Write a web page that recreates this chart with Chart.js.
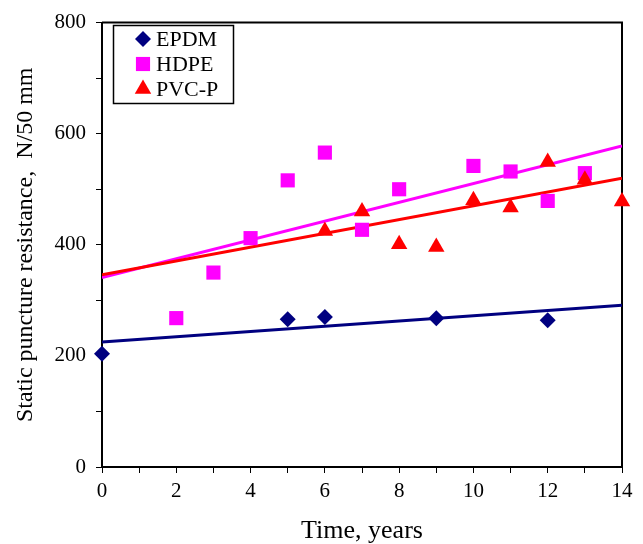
<!DOCTYPE html>
<html lang="en">
  <head>
    <meta charset="UTF-8">
    <title>Static puncture resistance</title>
    <script src="https://cdn.jsdelivr.net/npm/chart.js@4.4.7/dist/chart.umd.min.js"></script>
    <style>
    html, body { margin: 0; padding: 0; background: #fff; }
    #wrap { width: 643px; height: 544px; }
    </style>
  </head>
  <body>
    <div id="wrap"><canvas id="punctureChart" width="643" height="544"></canvas></div>
    <script>
    // measured points
    const epdmYears = [0, 5, 6, 9, 12];
    const epdmValues = [204, 266, 270, 268, 264];
    const hdpeYears = [2, 3, 4, 5, 6, 7, 8, 10, 11, 12, 13];
    const hdpeValues = [268, 350, 412, 516, 566, 427, 500, 542, 532, 479, 529];
    const pvcYears = [6, 7, 8, 9, 10, 11, 12, 13, 14];
    const pvcValues = [425, 460, 401, 396, 480, 467, 549, 517, 478];

    // trend line end points
    const trendYears = [0, 14];
    const epdmTrend = [225, 291];
    const hdpeTrend = [341, 578];
    const pvcTrend = [346, 520];

    const serif = '"Liberation Serif", "Times New Roman", serif';

    function pts(xs, ys) {
      return xs.map((x, i) => ({ x: x, y: ys[i] }));
    }

    const legendBox = {
      id: 'legendBox',
      beforeDatasetsDraw(chart) {
        // top and right sides of the plot frame
        const ctx = chart.ctx;
        const area = chart.chartArea;
        ctx.save();
        ctx.strokeStyle = '#000';
        ctx.lineWidth = 2;
        ctx.beginPath();
        ctx.moveTo(area.left, area.top);
        ctx.lineTo(area.right, area.top);
        ctx.lineTo(area.right, area.bottom);
        ctx.stroke();
        ctx.restore();
      },
      afterDatasetsDraw(chart) {
        const ctx = chart.ctx;
        ctx.save();
        ctx.strokeStyle = '#000';
        ctx.lineWidth = 1.5;
        ctx.strokeRect(113.5, 25.5, 120, 78);
        ctx.font = '22px ' + serif;
        ctx.textBaseline = 'middle';
        chart.data.datasets.slice(0, 3).forEach((ds, i) => {
          const y = 39 + i * 25;
          ctx.fillStyle = ds.pointBackgroundColor;
          ctx.strokeStyle = ds.pointBackgroundColor;
          Chart.helpers.drawPoint(ctx, {
            pointStyle: ds.pointStyle,
            radius: ds.pointRadius,
            rotation: 0,
            borderWidth: 0
          }, 143, y);
          ctx.fillStyle = '#000';
          ctx.fillText(ds.label, 156, y + 1);
        });
        ctx.restore();
      }
    };

    const ctx = document.getElementById('punctureChart').getContext('2d');
    const punctureChart = new Chart(ctx, {
      type: 'scatter',
      data: {
        datasets: [
          {
            label: 'EPDM',
            data: pts(epdmYears, epdmValues),
            pointStyle: 'rectRot',
            pointRadius: 8,
            pointBackgroundColor: '#000080',
            pointBorderWidth: 0,
            showLine: false,
            clip: false,
            order: 2
          },
          {
            label: 'HDPE',
            data: pts(hdpeYears, hdpeValues),
            pointStyle: 'rect',
            pointRadius: 10,
            pointBackgroundColor: '#FF00FF',
            pointBorderWidth: 0,
            showLine: false,
            clip: false,
            order: 1
          },
          {
            label: 'PVC-P',
            data: pts(pvcYears, pvcValues),
            pointStyle: 'triangle',
            pointRadius: 9.5,
            pointBackgroundColor: '#FF0000',
            pointBorderWidth: 0,
            showLine: false,
            clip: false,
            order: 0
          },
          {
            label: 'EPDM trend',
            data: pts(trendYears, epdmTrend),
            showLine: true,
            borderColor: '#000080',
            borderWidth: 3,
            pointRadius: 0,
            order: 5
          },
          {
            label: 'PVC-P trend',
            data: pts(trendYears, pvcTrend),
            showLine: true,
            borderColor: '#FF0000',
            borderWidth: 3,
            pointRadius: 0,
            order: 3
          },
          {
            label: 'HDPE trend',
            data: pts(trendYears, hdpeTrend),
            showLine: true,
            borderColor: '#FF00FF',
            borderWidth: 3,
            pointRadius: 0,
            order: 4
          }
        ]
      },
      options: {
        responsive: false,
        animation: false,
        layout: { padding: { top: 19, right: 21, left: 0, bottom: 0 } },
        plugins: {
          legend: { display: false },
          tooltip: { enabled: false }
        },
        scales: {
          x: {
            type: 'linear',
            min: 0,
            max: 14,
            afterFit: (scale) => { scale.height = 77; },
            ticks: {
              stepSize: 1,
              autoSkip: false,
              maxRotation: 0,
              padding: 6,
              color: '#000',
              font: { family: serif, size: 21 },
              callback: (v) => (v % 2 === 0 ? v : '')
            },
            grid: {
              drawOnChartArea: false,
              drawTicks: true,
              tickLength: 6,
              color: '#000'
            },
            border: { display: true, color: '#000', width: 2 },
            title: {
              display: true,
              text: 'Time, years',
              color: '#000',
              font: { family: serif, size: 26, lineHeight: 1 },
              padding: { top: 0, bottom: 0 }
            }
          },
          y: {
            min: 0,
            max: 800,
            afterFit: (scale) => { scale.width = 102; },
            ticks: {
              stepSize: 100,
              autoSkip: false,
              padding: 10,
              color: '#000',
              font: { family: serif, size: 21 },
              callback: (v) => (v % 200 === 0 ? v : '')
            },
            grid: {
              drawOnChartArea: false,
              drawTicks: true,
              tickLength: 6,
              color: '#000'
            },
            border: { display: true, color: '#000', width: 2 },
            title: {
              display: true,
              text: 'Static puncture resistance,  N/50 mm',
              color: '#000',
              font: { family: serif, size: 24, lineHeight: 1 },
              padding: { top: 14, bottom: 0 }
            }
          }
        }
      },
      plugins: [legendBox]
    });
    </script>
  </body>
</html>
